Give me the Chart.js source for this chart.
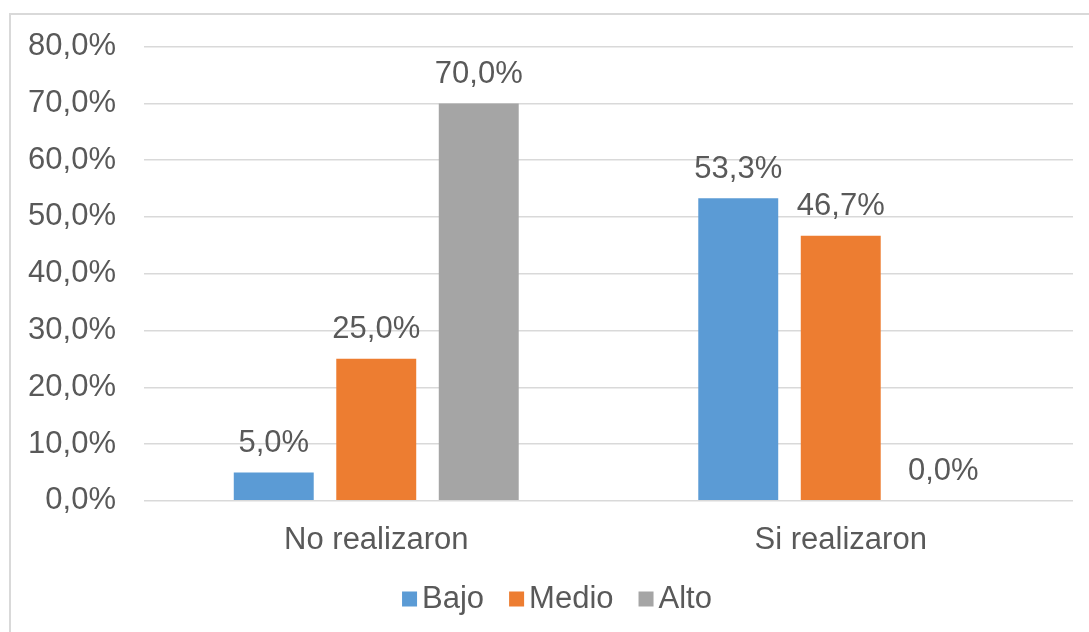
<!DOCTYPE html>
<html>
<head>
<meta charset="utf-8">
<script src="https://cdn.jsdelivr.net/npm/chart.js@4"></script>
<style>
  html, body { margin: 0; padding: 0; background: #fff; overflow: hidden; }
  #marco { position: absolute; left: 9px; top: 13px; width: 1200px; height: 700px; border: 2px solid #D9D9D9; box-sizing: border-box; }
  #cntr { position: absolute; left: 0; top: 0; width: 1089px; height: 632px; }
</style>
</head>
<body>
<div id="marco"></div>
<div id="cntr"><canvas id="myChart" width="1089" height="632"></canvas></div>
<script>
// Datos
const categorias = ['No realizaron', 'Si realizaron'];
const bajo = [5.0, 53.3];
const medio = [25.0, 46.7];
const alto = [70.0, 0.0];
const series = ['Bajo', 'Medio', 'Alto'];
const colores = ['#5B9BD5', '#ED7D31', '#A5A5A5'];

const fuente = '"Liberation Sans", Arial, sans-serif';
const gris = '#595959';
const tam = 31;

function porcentaje(v) {
  return v.toFixed(1).replace('.', ',') + '%';
}

// Etiquetas encima de cada barra
const etiquetas = {
  id: 'etiquetas',
  afterDatasetsDraw(chart) {
    const ctx = chart.ctx;
    ctx.save();
    ctx.font = tam + 'px ' + fuente;
    ctx.fillStyle = gris;
    ctx.textAlign = 'center';
    ctx.textBaseline = 'middle';
    chart.data.datasets.forEach((ds, i) => {
      chart.getDatasetMeta(i).data.forEach((bar, j) => {
        ctx.fillText(porcentaje(ds.data[j]), bar.x, bar.y - 29);
      });
    });
    ctx.restore();
  }
};

// Leyenda abajo, cuadrado pegado al texto
const leyenda = {
  id: 'leyenda',
  afterDraw(chart) {
    const ctx = chart.ctx;
    ctx.save();
    ctx.font = tam + 'px ' + fuente;
    const caja = 15, hueco = 5, sep = 25;
    let total = 0;
    const anchos = series.map(s => ctx.measureText(s).width);
    anchos.forEach((w, i) => { total += caja + hueco + w + (i < anchos.length - 1 ? sep : 0); });
    let x = 557 - total / 2;
    const y = 599;
    ctx.textBaseline = 'middle';
    ctx.textAlign = 'left';
    series.forEach((s, i) => {
      ctx.fillStyle = colores[i];
      ctx.fillRect(x, y - caja / 2, caja, caja);
      x += caja + hueco;
      ctx.fillStyle = gris;
      ctx.fillText(s, x, y);
      x += anchos[i] + sep;
    });
    ctx.restore();
  }
};

const ctx = document.getElementById('myChart');
new Chart(ctx, {
  type: 'bar',
  data: {
    labels: categorias,
    datasets: [
      { label: series[0], data: bajo, backgroundColor: colores[0] },
      { label: series[1], data: medio, backgroundColor: colores[1] },
      { label: series[2], data: alto, backgroundColor: colores[2] }
    ]
  },
  options: {
    responsive: false,
    animation: false,
    categoryPercentage: 0.662,
    barPercentage: 0.78,
    layout: { padding: { left: 0, right: 16, top: 28, bottom: 60 } },
    plugins: {
      legend: { display: false },
      tooltip: { enabled: false }
    },
    scales: {
      x: {
        grid: { display: false },
        border: { display: false },
        ticks: { color: gris, font: { family: fuente, size: tam }, padding: 13 }
      },
      y: {
        min: 0,
        max: 80,
        ticks: {
          stepSize: 10,
          color: gris,
          font: { family: fuente, size: tam },
          padding: 28,
          callback: v => porcentaje(v)
        },
        grid: { color: '#D9D9D9', lineWidth: 1.5, drawTicks: false },
        border: { display: false },
        afterFit(scale) { scale.width = 144; }
      }
    }
  },
  plugins: [etiquetas, leyenda]
});
</script>
</body>
</html>
